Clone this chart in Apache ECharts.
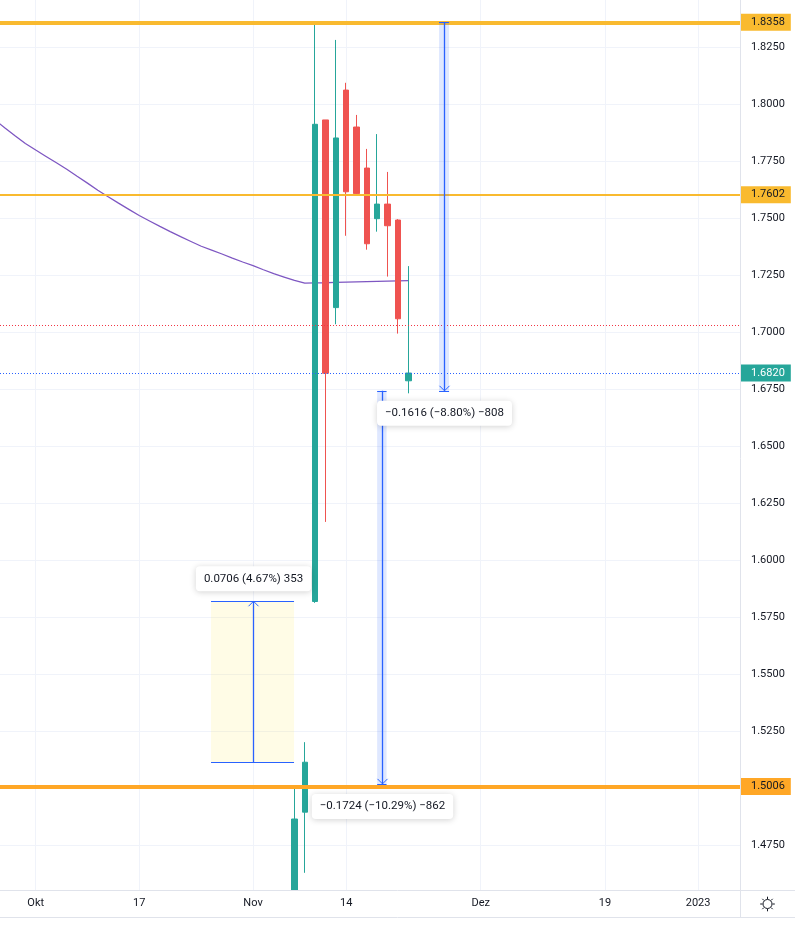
<!DOCTYPE html>
<html><head><meta charset="utf-8">
<script src="https://cdn.jsdelivr.net/npm/echarts@6/dist/echarts.min.js"></script>
<style>html,body{margin:0;padding:0;background:#fff}#c{width:795px;height:926px}</style>
</head><body><div id="c"></div>
<script>
// ---- data (x = trading-day index, 0 = 3 Oct 2022) ----
const candleIdx   = [25, 26, 27, 28, 29, 30, 31, 32, 33, 34, 35, 36];
const candleOpen  = [1.4400, 1.4894, 1.5818, 1.7930, 1.7107, 1.8061, 1.7899, 1.7719, 1.7497, 1.7561, 1.7491, 1.6786];
const candleClose = [1.4864, 1.5113, 1.7911, 1.6819, 1.7851, 1.7615, 1.7607, 1.7387, 1.7561, 1.7466, 1.7058, 1.6820];
const candleLow   = [1.4350, 1.4628, 1.5812, 1.6167, 1.7034, 1.7422, 1.7603, 1.7361, 1.7440, 1.7243, 1.6993, 1.6731];
const candleHigh  = [1.5004, 1.5201, 1.8358, 1.7930, 1.8281, 1.8093, 1.7952, 1.7803, 1.7868, 1.7702, 1.7495, 1.7289];

const maIdx = [-4,-3,-2,-1,0,1,2,3,4,5,6,7,8,9,10,11,12,13,14,15,16,17,18,19,20,21,22,23,24,25,26,27,28,29,30,31,32,33,34,35,36];
const maValues = [1.7932,1.7896,1.7861,1.7827,1.7798,1.7770,1.7742,1.7714,1.7683,1.7653,1.7622,1.7593,1.7565,1.7538,1.7511,
  1.7487,1.7463,1.7440,1.7418,1.7397,1.7376,1.7359,1.7342,1.7324,1.7307,1.7291,1.7273,1.7256,1.7241,1.7226,1.7214,
  1.7215,1.7216,1.7218,1.7219,1.7220,1.7221,1.7222,1.7223,1.7224,1.7225];

const xTickPos    = [0, 10, 21, 30, 43, 55, 64];
const xTickLabels = ['Okt', '17', 'Nov', '14', 'Dez', '19', '2023'];
const yGridValues  = [1.475, 1.500, 1.525, 1.550, 1.575, 1.600, 1.625, 1.650, 1.675, 1.700, 1.725, 1.750, 1.775, 1.800, 1.825];
const yLabelValues = [1.475, 1.525, 1.550, 1.575, 1.600, 1.625, 1.650, 1.675, 1.700, 1.725, 1.750, 1.775, 1.800, 1.825];

const levelValues = [1.8358, 1.7602, 1.5006];
const lastPrice = 1.6820;
const prevPriceLine = 1.7031;

const rangeX0   = [16.94, 38.97, 32.99];
const rangeX1   = [24.96, 39.94, 33.90];
const rangeFrom = [1.5113, 1.8358, 1.6742];
const rangeTo   = [1.5819, 1.6742, 1.5018];
const rangeLabels = ['0.0706 (4.67%) 353', '\u22120.1616 (\u22128.80%) \u2212808', '\u22120.1724 (\u221210.29%) \u2212862'];

// ---- build ----
const FONT = 'Roboto, "Liberation Sans", sans-serif';
const INK = '#131722';
const candleData = candleIdx.map((x, i) => [x, candleOpen[i], candleClose[i], candleLow[i], candleHigh[i]]);
const maData = maIdx.map((x, i) => [x, maValues[i]]);
const rangeData = rangeX0.map((x, i) => [x, rangeX1[i], rangeFrom[i], rangeTo[i]]);
const rangeFill = ['rgba(255,235,59,0.13)', 'rgba(41,98,255,0.15)', 'rgba(41,98,255,0.15)'];

function rangeGeom(api) {
  const pS = api.coord([api.value(0), api.value(2)]);
  const pE = api.coord([api.value(1), api.value(3)]);
  const left = Math.min(pS[0], pE[0]), right = Math.max(pS[0], pE[0]);
  return { left, right, yS: pS[1], yE: pE[1], cx: Math.round((left + right) / 2) + 0.5, up: pE[1] < pS[1] };
}

function renderRange(params, api) {
  const i = params.dataIndex;
  const g = rangeGeom(api);
  const top = Math.min(g.yS, g.yE), bottom = Math.max(g.yS, g.yE);
  const blue = '#2962FF';
  const d = g.up ? 5 : -5;
  return { type: 'group', children: [
    { type: 'rect', shape: { x: g.left, y: top, width: g.right - g.left, height: bottom - top }, style: { fill: rangeFill[i] } },
    { type: 'line', shape: { x1: g.left, y1: Math.round(g.yS) + 0.5, x2: g.right, y2: Math.round(g.yS) + 0.5 }, style: { stroke: blue, lineWidth: 1 } },
    { type: 'line', shape: { x1: g.left, y1: Math.round(g.yE) + 0.5, x2: g.right, y2: Math.round(g.yE) + 0.5 }, style: { stroke: blue, lineWidth: 1 } },
    { type: 'line', shape: { x1: g.cx, y1: g.yS, x2: g.cx, y2: g.yE }, style: { stroke: blue, lineWidth: 1.3 } },
    { type: 'polyline', shape: { points: [[g.cx - 5, g.yE + d], [g.cx, g.yE], [g.cx + 5, g.yE + d]] }, style: { stroke: blue, lineWidth: 1, fill: null } }
  ] };
}

function renderRangeLabel(params, api) {
  const i = params.dataIndex;
  const g = rangeGeom(api);
  return { type: 'text', style: {
    text: rangeLabels[i], x: g.cx, y: g.up ? g.yE - 10 : g.yE + 10,
    align: 'center', verticalAlign: g.up ? 'bottom' : 'top',
    fill: INK, font: '11.5px ' + FONT, lineHeight: 13,
    backgroundColor: '#ffffff', padding: [6, 8, 6, 8], borderRadius: 4,
    shadowBlur: 6, shadowColor: 'rgba(0,0,0,0.18)', shadowOffsetY: 1
  } };
}

function levelLabel(bg, fg) {
  return { show: true, position: 'end', distance: 0, formatter: p => Number(p.value).toFixed(4),
    backgroundColor: bg, color: fg, padding: [2, 6, 2, 11], fontSize: 11, lineHeight: 13, fontFamily: FONT };
}

const sunRays = [[0,-1],[0,1],[-1,0],[1,0],[0.707,0.707],[-0.707,0.707],[0.707,-0.707],[-0.707,-0.707]];
const sunChildren = [{ type: 'circle', z: 12, shape: { cx: 767.5, cy: 904, r: 4.5 }, style: { stroke: INK, fill: '#fff', lineWidth: 1 } }]
  .concat(sunRays.map(r => ({ type: 'line', z: 12,
    shape: { x1: 767.5 + r[0] * 5, y1: 904 + r[1] * 5, x2: 767.5 + r[0] * 7.3, y2: 904 + r[1] * 7.3 },
    style: { stroke: INK, lineWidth: 1 } })));

const chart = echarts.init(document.getElementById('c'), null, { renderer: 'canvas' });
const xBase = { type: 'value', min: -3.45, max: 68.05, axisLine: { show: false } };
const option = {
  animation: false,
  backgroundColor: '#ffffff',
  grid: { left: 0, right: 55, top: 0, bottom: 36 },
  xAxis: [
    Object.assign({}, xBase, {
      axisTick: { show: false, customValues: xTickPos },
      axisLabel: { show: false, customValues: xTickPos },
      splitLine: { show: true, lineStyle: { color: '#F0F3FA', width: 1 } }
    }),
    Object.assign({}, xBase, {
      position: 'bottom', z: 20,
      axisTick: { show: false, customValues: xTickPos },
      axisLabel: { customValues: xTickPos, margin: 8, color: INK, fontSize: 11, fontFamily: FONT,
        formatter: v => xTickLabels[xTickPos.indexOf(Math.round(v))] },
      splitLine: { show: false }
    })
  ],
  yAxis: {
    type: 'value', position: 'right', min: 1.45526, max: 1.84561, scale: true,
    axisLine: { show: false },
    axisTick: { show: false, customValues: yGridValues },
    axisLabel: { customValues: yLabelValues, margin: 11, color: INK, fontSize: 11, fontFamily: FONT,
      formatter: v => v.toFixed(4) },
    splitLine: { show: true, lineStyle: { color: '#F0F3FA', width: 1 } }
  },
  series: [
    {
      type: 'line', name: 'MA', data: maData, showSymbol: false, z: 1,
      lineStyle: { color: '#7E57C2', width: 1.3 },
      markLine: {
        silent: true, symbol: ['none', 'none'], animation: false, precision: 4,
        data: [
          { yAxis: levelValues[0], lineStyle: { color: '#F9BA2F', width: 4, type: 'solid' }, label: levelLabel('#F9BA2F', INK) },
          { yAxis: levelValues[1], lineStyle: { color: '#F9BA2F', width: 2, type: 'solid' }, label: levelLabel('#F9BA2F', INK) },
          { yAxis: levelValues[2], lineStyle: { color: '#FFA726', width: 4, type: 'solid' }, label: levelLabel('#FFA726', INK) },
          { yAxis: prevPriceLine, lineStyle: { color: '#F23645', width: 1, type: [1, 2] }, label: { show: false } },
          { yAxis: lastPrice, lineStyle: { color: '#2962FF', width: 1, type: [1, 2] }, label: levelLabel('#26A69A', '#ffffff') }
        ]
      }
    },
    {
      type: 'candlestick', data: candleData, z: 3, barWidth: 6, clip: true,
      encode: { x: 0, y: [1, 2, 3, 4] },
      itemStyle: { color: '#26A69A', color0: '#EF5350', borderColor: '#26A69A', borderColor0: '#EF5350', borderWidth: 1 }
    },
    {
      type: 'custom', data: rangeData, z: 5, renderItem: renderRange,
      encode: { x: [0, 1], y: [2, 3] }, silent: true
    },
    {
      type: 'custom', data: rangeData, z: 6, renderItem: renderRangeLabel,
      encode: { x: [0, 1], y: [2, 3] }, silent: true
    }
  ],
  graphic: [
    { type: 'rect', shape: { x: 0, y: 890, width: 795, height: 36 }, style: { fill: '#ffffff' }, z: 8 },
    { type: 'line', shape: { x1: 740.5, y1: 0, x2: 740.5, y2: 917 }, style: { stroke: '#E0E3EB', lineWidth: 1 }, z: 12 },
    { type: 'line', shape: { x1: 0, y1: 890.5, x2: 795, y2: 890.5 }, style: { stroke: '#E0E3EB', lineWidth: 1 }, z: 12 },
    { type: 'line', shape: { x1: 0, y1: 917.5, x2: 795, y2: 917.5 }, style: { stroke: '#E0E3EB', lineWidth: 1 }, z: 12 }
  ].concat(sunChildren)
};
chart.setOption(option);
</script>
</body></html>
